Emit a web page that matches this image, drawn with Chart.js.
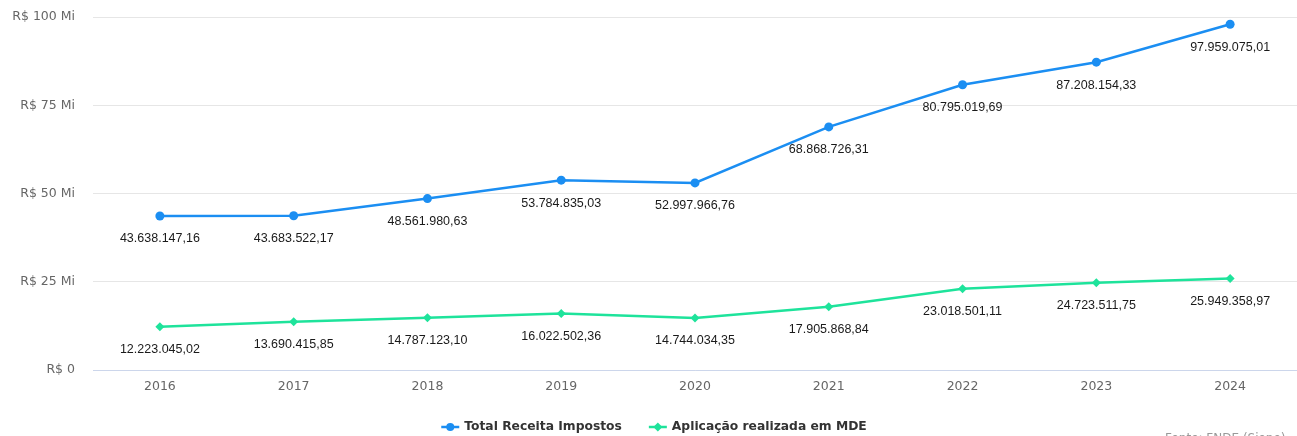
<!DOCTYPE html>
<html lang="pt-BR">
<head>
<meta charset="utf-8">
<script src="https://cdn.jsdelivr.net/npm/chart.js@4/dist/chart.umd.min.js"></script>
<style>
    html, body { margin: 0; padding: 0; background: #fff; }
    #wrap { width: 1297px; height: 436px; position: relative; }
</style>
</head>
<body>
<div id="wrap"><canvas id="chart"></canvas></div>
<script>
// dados
const anos = ['2016', '2017', '2018', '2019', '2020', '2021', '2022', '2023', '2024'];
const receitaImpostos = [43638147.16, 43683522.17, 48561980.63, 53784835.03, 52997966.76, 68868726.31, 80795019.69, 87208154.33, 97959075.01];
const aplicacaoMDE = [12223045.02, 13690415.85, 14787123.10, 16022502.36, 14744034.35, 17905868.84, 23018501.11, 24723511.75, 25949358.97];
const yTicks = [0, 25000000, 50000000, 75000000, 100000000];

const AZUL = '#1b8ef2';
const VERDE = '#1ee39b';

// formato brasileiro 12.345.678,90
function formatBR(v) {
    const partes = v.toFixed(2).split('.');
    const inteiro = partes[0].replace(/\B(?=(\d{3})+(?!\d))/g, '.');
    return inteiro + ',' + partes[1];
}

// rótulos de valor abaixo de cada ponto
const valueLabels = {
    id: 'valueLabels',
    afterDatasetsDraw(chart) {
        const ctx = chart.ctx;
        ctx.save();
        ctx.font = '12.5px "Liberation Sans", Arial, sans-serif';
        ctx.fillStyle = '#1a1a1a';
        ctx.textAlign = 'center';
        ctx.textBaseline = 'middle';
        chart.data.datasets.forEach((ds, i) => {
            const meta = chart.getDatasetMeta(i);
            meta.data.forEach((pt, j) => {
                ctx.fillText(formatBR(ds.data[j]), pt.x, pt.y + 23);
            });
        });
        ctx.restore();
    }
};

// legenda no estilo linha + marcador
const customLegend = {
    id: 'customLegend',
    afterDraw(chart) {
        const ctx = chart.ctx;
        const y = 427;
        const symW = 18, gapText = 5, gapItem = 27;
        ctx.save();
        ctx.font = 'bold 12.3px "DejaVu Sans", sans-serif';
        const items = chart.data.datasets.map(ds => ({
            ds, w: ctx.measureText(ds.label).width
        }));
        const total = items.reduce((s, it) => s + symW + gapText + it.w, 0) + gapItem * (items.length - 1);
        let x = 654 - total / 2;
        items.forEach(it => {
            const c = it.ds.borderColor;
            ctx.strokeStyle = c;
            ctx.fillStyle = c;
            ctx.lineWidth = 2.5;
            ctx.beginPath();
            ctx.moveTo(x, y); ctx.lineTo(x + symW, y);
            ctx.stroke();
            ctx.beginPath();
            const cx = x + symW / 2;
            if (it.ds.pointStyle === 'circle') {
                ctx.arc(cx, y, 4, 0, Math.PI * 2);
            } else {
                ctx.moveTo(cx, y - 4.5); ctx.lineTo(cx + 4.5, y); ctx.lineTo(cx, y + 4.5); ctx.lineTo(cx - 4.5, y); ctx.closePath();
            }
            ctx.fill();
            ctx.fillStyle = '#333';
            ctx.textAlign = 'left';
            ctx.textBaseline = 'middle';
            ctx.fillText(it.ds.label, x + symW + gapText, y);
            x += symW + gapText + it.w + gapItem;
        });
        ctx.restore();
    }
};

// crédito no canto inferior direito (cortado pela borda)
const credits = {
    id: 'credits',
    afterDraw(chart) {
        const ctx = chart.ctx;
        ctx.save();
        ctx.font = '12px "DejaVu Sans", sans-serif';
        ctx.fillStyle = '#999';
        ctx.textAlign = 'left';
        ctx.textBaseline = 'alphabetic';
        ctx.fillText('Fonte: FNDE (Siope)', 1165, 442);
        ctx.restore();
    }
};

new Chart(document.getElementById('chart'), {
    type: 'line',
    data: {
        labels: anos,
        datasets: [{
            label: 'Total Receita Impostos',
            data: receitaImpostos,
            borderColor: AZUL,
            backgroundColor: AZUL,
            borderWidth: 2.5,
            pointStyle: 'circle',
            pointRadius: 4.5,
            pointBorderWidth: 0,
            pointHoverRadius: 5,
            tension: 0
        }, {
            label: 'Aplicação realizada em MDE',
            data: aplicacaoMDE,
            borderColor: VERDE,
            backgroundColor: VERDE,
            borderWidth: 2.5,
            pointStyle: 'rectRot',
            pointRadius: 4.5,
            pointBorderWidth: 0,
            pointHoverRadius: 5,
            tension: 0
        }]
    },
    options: {
        responsive: true,
        maintainAspectRatio: false,
        animation: false,
        layout: { autoPadding: false, padding: { top: 17, left: 0, right: 0, bottom: 33 } },
        plugins: {
            legend: { display: false },
            tooltip: { enabled: false }
        },
        scales: {
            x: {
                offset: true,
                grid: { display: false, drawTicks: false },
                border: { display: true, color: '#ccd6eb', width: 1 },
                ticks: {
                    padding: 9,
                    color: '#666',
                    font: { family: '"DejaVu Sans", sans-serif', size: 12.5 }
                }
            },
            y: {
                min: 0,
                max: 100000000,
                afterBuildTicks(scale) {
                    scale.ticks = yTicks.map(v => ({ value: v }));
                },
                afterFit(scale) {
                    scale.width = 93;
                    scale.paddingTop = 7;
                    scale.paddingBottom = 7;
                },
                grid: { color: '#e6e6e6', drawTicks: false },
                border: { display: false },
                ticks: {
                    padding: 18,
                    color: '#666',
                    font: { family: '"DejaVu Sans", sans-serif', size: 12.5 },
                    callback: v => v === 0 ? 'R$ 0' : 'R$ ' + (v / 1000000) + ' Mi'
                }
            }
        }
    },
    plugins: [valueLabels, customLegend, credits]
});
</script>
</body>
</html>
